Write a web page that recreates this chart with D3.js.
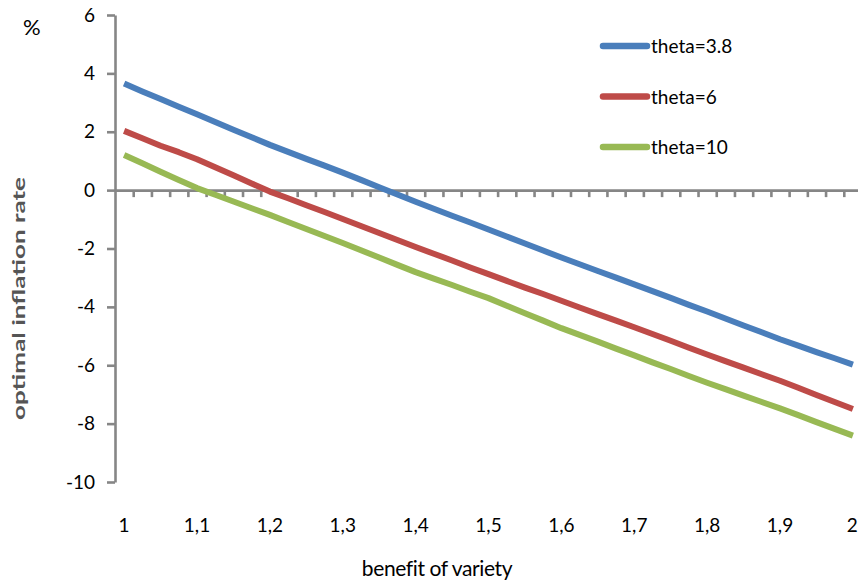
<!DOCTYPE html>
<html>
<head>
<meta charset="utf-8">
<script src="https://cdn.jsdelivr.net/npm/d3@7"></script>
<style>
  html, body { margin: 0; padding: 0; background: #ffffff; }
  svg { display: block; }
  text { font-family: Lato, "Open Sans", sans-serif; fill: #000; }
</style>
</head>
<body>
<div id="chart"></div>
<script>
// ---- data ----
const categories = [1, 1.025, 1.05, 1.075, 1.1, 1.125, 1.15, 1.175, 1.2, 1.225, 1.25, 1.275, 1.3, 1.325, 1.35, 1.375,
  1.4, 1.425, 1.45, 1.475, 1.5, 1.525, 1.55, 1.575, 1.6, 1.625, 1.65, 1.675, 1.7, 1.725, 1.75, 1.775,
  1.8, 1.825, 1.85, 1.875, 1.9, 1.925, 1.95, 1.975, 2];
const theta38 = [3.65, 3.38, 3.12, 2.86, 2.6, 2.33, 2.07, 1.81, 1.55, 1.31, 1.07, 0.84, 0.6, 0.35, 0.1, -0.15,
  -0.4, -0.64, -0.88, -1.11, -1.35, -1.59, -1.83, -2.07, -2.31, -2.54, -2.77, -3.0, -3.23, -3.46, -3.69, -3.93,
  -4.16, -4.4, -4.64, -4.87, -5.11, -5.33, -5.55, -5.76, -5.98];
const theta6 = [2.03, 1.78, 1.52, 1.3, 1.06, 0.78, 0.51, 0.23, -0.05, -0.28, -0.52, -0.75, -0.99, -1.23, -1.47, -1.71,
  -1.95, -2.18, -2.41, -2.65, -2.88, -3.11, -3.34, -3.56, -3.79, -4.02, -4.25, -4.47, -4.7, -4.93, -5.16, -5.4,
  -5.63, -5.86, -6.08, -6.31, -6.53, -6.77, -7.02, -7.26, -7.5];
const theta10 = [1.2, 0.92, 0.63, 0.35, 0.07, -0.16, -0.39, -0.62, -0.85, -1.09, -1.33, -1.57, -1.81, -2.06, -2.31, -2.56,
  -2.81, -3.03, -3.25, -3.48, -3.7, -3.96, -4.22, -4.47, -4.73, -4.96, -5.19, -5.43, -5.66, -5.9, -6.13, -6.37,
  -6.6, -6.82, -7.04, -7.26, -7.48, -7.71, -7.95, -8.18, -8.41];
const seriesNames = ["theta=3.8", "theta=6", "theta=10"];
const seriesColors = ["#4a7ebb", "#be4b48", "#98b954"];
const yTicks = [6, 4, 2, 0, -2, -4, -6, -8, -10];
const xTickLabels = ["1", "1,1", "1,2", "1,3", "1,4", "1,5", "1,6", "1,7", "1,8", "1,9", "2"];
const xTickIndex = [0, 4, 8, 12, 16, 20, 24, 28, 32, 36, 40];
const yTitle = "optimal inflation rate";
const xTitle = "benefit of variety";
const unitLabel = "%";

// ---- layout ----
const W = 858, H = 586;
const plotLeft = 115, plotRight = 862, plotTop = 15, plotBottom = 482;
const axisColor = "#868686";

const svg = d3.select("#chart").append("svg").attr("width", W).attr("height", H);

const x = d3.scaleBand().domain(d3.range(categories.length)).range([plotLeft, plotRight]).padding(0);
const xEdge = d3.scaleLinear().domain([0, categories.length]).range([plotLeft, plotRight]);
const y = d3.scaleLinear().domain([-10, 6]).range([plotBottom, plotTop]);

// y axis
const yAxis = svg.append("g").attr("transform", `translate(${plotLeft},0)`)
  .call(d3.axisLeft(y).tickValues(yTicks).tickSize(8).tickSizeOuter(0).tickPadding(12)
    .tickFormat(d => String(d)));
yAxis.selectAll("path.domain").attr("stroke", axisColor).attr("stroke-width", 2.6);
yAxis.selectAll(".tick line").attr("stroke", axisColor).attr("stroke-width", 2.6);
yAxis.selectAll(".tick text").style("font-size", "19px").style("font-family", "Lato, sans-serif").attr("fill", "#000");

// x axis on zero line with boundary ticks
const edges = d3.range(1, categories.length + 1);
const xAxis = svg.append("g").attr("transform", `translate(0,${y(0)})`)
  .call(d3.axisBottom(xEdge).tickValues(edges).tickSize(7).tickSizeOuter(0).tickFormat(""));
xAxis.selectAll("path.domain").attr("stroke", axisColor).attr("stroke-width", 2.6);
xAxis.selectAll(".tick line").attr("stroke", axisColor).attr("stroke-width", 2.6);

// category labels at bottom
const labelAxis = svg.append("g").attr("transform", `translate(0,${plotBottom + 36})`)
  .call(d3.axisBottom(x).tickValues(xTickIndex).tickSize(0).tickPadding(0)
    .tickFormat((d) => xTickLabels[xTickIndex.indexOf(d)]));
labelAxis.select("path.domain").remove();
labelAxis.selectAll(".tick text").style("font-size", "19px").style("font-family", "Lato, sans-serif")
  .attr("fill", "#000").attr("dy", "0.71em");
labelAxis.selectAll(".tick text").filter(d => d === xTickIndex[xTickIndex.length - 1])
  .attr("text-anchor", "end").attr("dx", "5");

// lines
const allSeries = [theta38, theta6, theta10];
const line = d3.line()
  .x((d, i) => x(i) + x.bandwidth() / 2)
  .y(d => y(d));
allSeries.forEach((s, k) => {
  svg.append("path").datum(s)
    .attr("d", line)
    .attr("fill", "none")
    .attr("stroke", seriesColors[k])
    .attr("stroke-width", 6)
    .attr("stroke-linejoin", "round");
});

// legend
const legend = svg.append("g");
seriesNames.forEach((name, k) => {
  const ly = 46 + k * 50.5;
  legend.append("line").attr("x1", 603).attr("x2", 647).attr("y1", ly).attr("y2", ly)
    .attr("stroke", seriesColors[k]).attr("stroke-width", 6.5).attr("stroke-linecap", "round");
  legend.append("text").attr("x", 651).attr("y", ly + 7).style("font-size", "19px").text(name);
});

// titles
svg.append("text").attr("x", 23).attr("y", 35).style("font-size", "22px").text(unitLabel);
svg.append("text").attr("x", 437).attr("y", 576).attr("text-anchor", "middle")
  .style("font-size", "21px").style("letter-spacing", "-0.4px").text(xTitle);
svg.append("text")
  .attr("transform", `translate(25,${(177 + 420) / 2}) rotate(-90)`)
  .attr("text-anchor", "middle")
  .attr("textLength", 243).attr("lengthAdjust", "spacingAndGlyphs")
  .style("font-size", "17px").style("font-weight", "bold")
  .style("fill", "#555")
  .text(yTitle);
</script>
</body>
</html>
